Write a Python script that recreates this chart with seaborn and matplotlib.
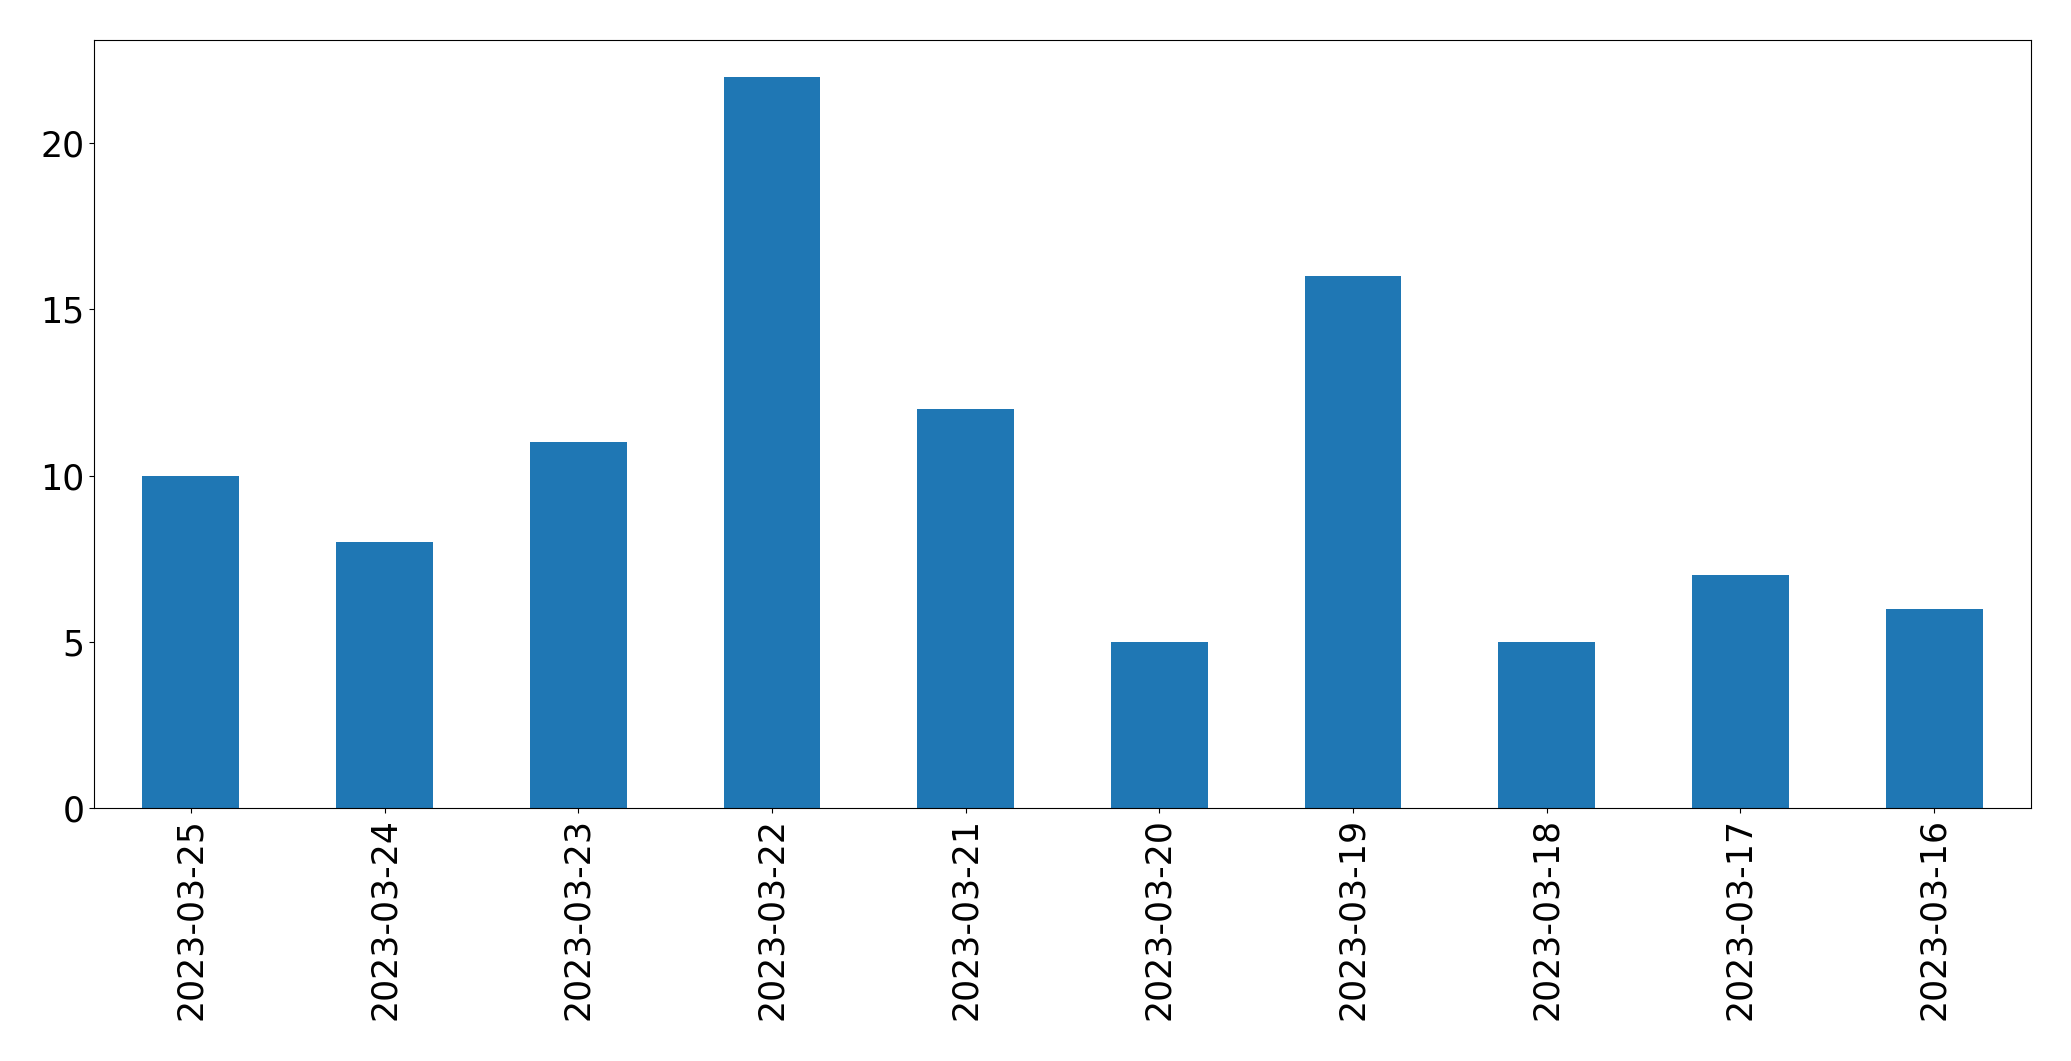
import matplotlib
matplotlib.use("Agg")
import matplotlib.pyplot as plt
import seaborn as sns
import pandas as pd

dates = ["2023-03-25", "2023-03-24", "2023-03-23", "2023-03-22", "2023-03-21",
         "2023-03-20", "2023-03-19", "2023-03-18", "2023-03-17", "2023-03-16"]
counts = [10, 8, 11, 22, 12, 5, 16, 5, 7, 6]

df = pd.DataFrame({"date": dates, "count": counts})

sns.set_style("ticks")
plt.rcParams['font.family'] = ['DejaVu Sans']
plt.rcParams['text.color'] = 'black'
plt.rcParams['xtick.color'] = 'black'
plt.rcParams['ytick.color'] = 'black'
plt.rcParams['xtick.labelcolor'] = 'black'
plt.rcParams['ytick.labelcolor'] = 'black'
plt.rcParams['axes.edgecolor'] = 'black'

fig = plt.figure(figsize=(20.71, 10.61), dpi=100)
ax = fig.add_axes([94/2071, (1061-808)/1061, (2031-94)/2071, (808-40)/1061])
sns.barplot(data=df, x="date", y="count", order=dates, color="#1f77b4",
            saturation=1, width=0.5, ax=ax, linewidth=0)
ax.set_xlim(-0.5, len(dates) - 0.5)
ax.set_ylim(0, max(counts) * 1.05)
ax.set_yticks([0, 5, 10, 15, 20])
ax.set_xlabel("")
ax.set_ylabel("")
ax.tick_params(axis="both", labelsize=25, length=3.5, width=0.8,
               color="black", labelcolor="black")
ax.tick_params(axis="x", labelrotation=90)
for s in ax.spines.values():
    s.set_visible(True)
    s.set_color("black")
    s.set_linewidth(0.8)
fig.savefig("out.png", dpi=100)
